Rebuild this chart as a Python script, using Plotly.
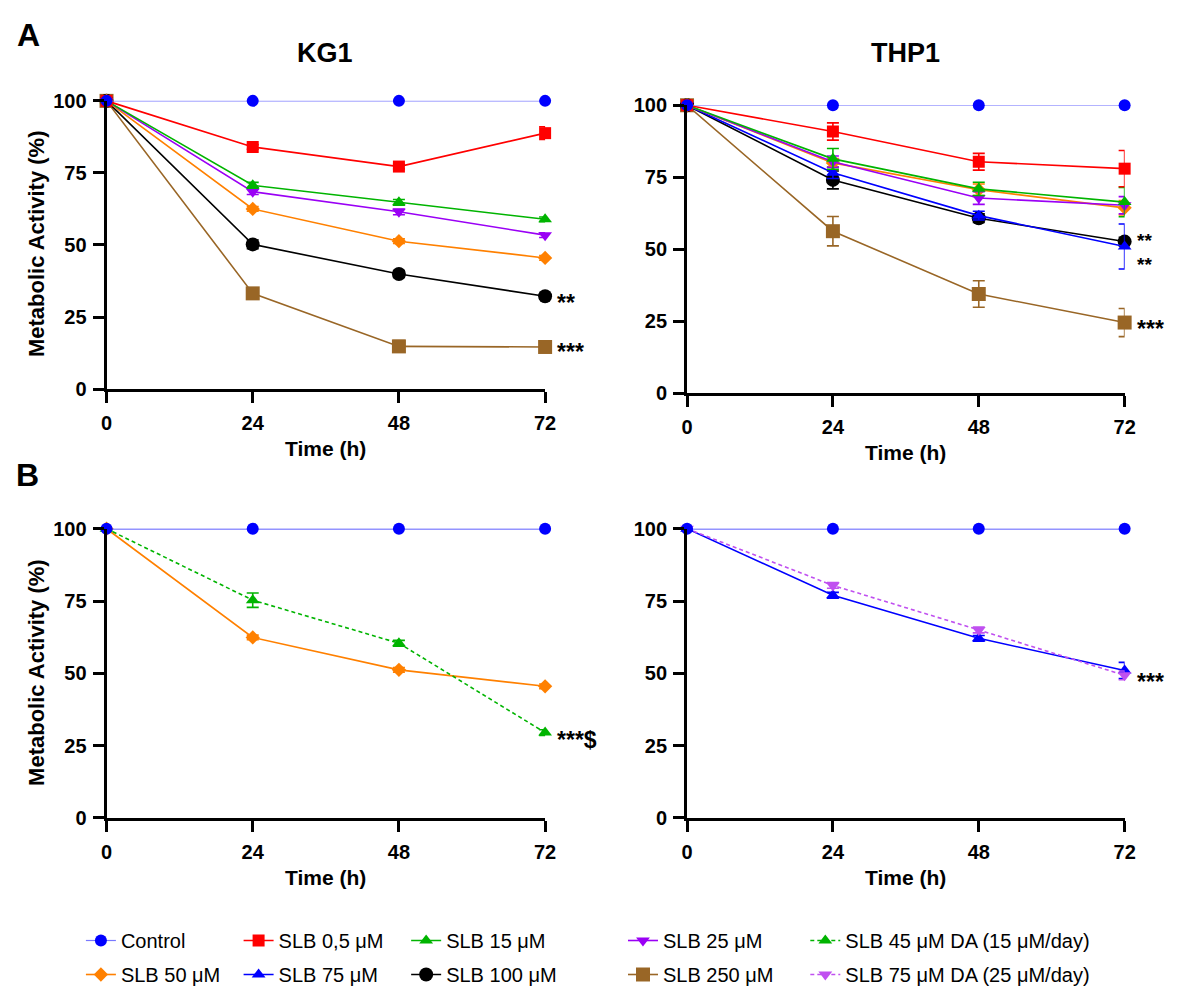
import plotly.graph_objects as go

W, H = 1179, 994
FONT = "Arial, Liberation Sans, sans-serif"

time_h = [0, 24, 48, 72]
y_ticks = [0, 25, 50, 75, 100]

# KG1 (panel A)
kg1_control = [100, 100, 100, 100]
kg1_slb05 = [100, 84.0, 77.2, 88.8]
kg1_slb05_err = [0, 0.8, 0.8, 2.2]
kg1_slb15 = [100, 70.7, 64.8, 58.9]
kg1_slb15_err = [0, 1.0, 1.0, 0.8]
kg1_slb25 = [100, 68.5, 61.5, 53.4]
kg1_slb25_err = [0, 1.0, 1.0, 0.8]
kg1_slb50 = [100, 62.5, 51.3, 45.5]
kg1_slb50_err = [0, 0.8, 0.8, 0.8]
kg1_slb100 = [100, 50.2, 39.9, 32.2]
kg1_slb100_err = [0, 1.5, 1.2, 1.0]
kg1_slb250 = [100, 33.2, 14.8, 14.6]
kg1_slb250_err = [0, 1.0, 2.0, 0.8]

# THP1 (panel A)
thp1_control = [100, 100, 100, 100]
thp1_slb05 = [100, 90.9, 80.4, 78.0]
thp1_slb05_err = [0, 3.0, 2.9, 6.3]
thp1_slb15 = [100, 81.4, 71.0, 66.4]
thp1_slb15_err = [0, 3.6, 2.3, 5.1]
thp1_slb25 = [100, 80.4, 67.8, 65.3]
thp1_slb25_err = [0, 2.0, 2.2, 3.0]
thp1_slb50 = [100, 80.0, 70.7, 64.4]
thp1_slb50_err = [0, 1.5, 2.0, 2.5]
thp1_slb75 = [100, 76.6, 61.7, 51.0]
thp1_slb75_err = [0, 2.0, 1.5, 7.8]
thp1_slb100 = [100, 74.1, 60.8, 52.7]
thp1_slb100_err = [0, 3.1, 1.5, 1.5]
thp1_slb250 = [100, 56.3, 34.5, 24.6]
thp1_slb250_err = [0, 5.1, 4.6, 4.9]

# Panel B
kg1b_control = [100, 100, 100, 100]
kg1b_slb50 = [100, 62.4, 51.2, 45.5]
kg1b_slb50_err = [0, 0.8, 0.8, 0.8]
kg1b_slb45da = [100, 75.3, 60.4, 29.5]
kg1b_slb45da_err = [0, 2.5, 1.0, 1.0]
thp1b_control = [100, 100, 100, 100]
thp1b_slb75 = [100, 77.0, 62.1, 51.0]
thp1b_slb75_err = [0, 1.0, 1.0, 2.8]
thp1b_slb75da = [100, 80.4, 65.0, 49.3]
thp1b_slb75da_err = [0, 1.0, 1.0, 1.5]

# significance labels: (text, x axis, y axis, y value for label, font size)
sig_labels = [
    ("**", "x", "y", 32.2, 23),
    ("***", "x", "y", 15.3, 23),
    ("**", "x2", "y2", 55.3, 19),
    ("**", "x2", "y2", 46.8, 19),
    ("***", "x2", "y2", 24.7, 23),
    ("***$", "x3", "y3", 29.2, 23),
    ("***", "x4", "y4", 49.4, 23),
]

C_BLUE = "#0000ff"
C_RED = "#ff0000"
C_GREEN = "#00b400"
C_PURPLE = "#9a00f5"
C_ORANGE = "#ff8000"
C_BLACK = "#000000"
C_BROWN = "#996626"
C_PURPLE_L = "#c050f0"

series_style = {
    "Control": (C_BLUE, "circle", 12, "solid", 1, "legend"),
    "SLB 50 μM": (C_ORANGE, "diamond", 11, "solid", 2, "legend"),
    "SLB 0,5 μM": (C_RED, "square", 12, "solid", 3, "legend2"),
    "SLB 75 μM": (C_BLUE, "triangle-up", 12, "solid", 4, "legend2"),
    "SLB 15 μM": (C_GREEN, "triangle-up", 12, "solid", 5, "legend3"),
    "SLB 100 μM": (C_BLACK, "circle", 14, "solid", 6, "legend3"),
    "SLB 25 μM": (C_PURPLE, "triangle-down", 12, "solid", 7, "legend4"),
    "SLB 250 μM": (C_BROWN, "square", 14, "solid", 8, "legend4"),
    "SLB 45 μM DA (15 μM/day)": (C_GREEN, "triangle-up", 12, "dash", 9, "legend5"),
    "SLB 75 μM DA (25 μM/day)": (C_PURPLE_L, "triangle-down", 12, "dash", 10, "legend5"),
}

fig = go.Figure()
shown = set()


def add(name, y, err, xa, ya, line_color=None, lw=1.6):
    color, sym, size, dash, rank, leg = series_style[name]
    show = name not in shown
    shown.add(name)
    fig.add_trace(go.Scatter(
        x=time_h, y=y, name=name, mode="lines+markers",
        xaxis=xa, yaxis=ya, legend=leg, legendrank=rank,
        legendgroup=name, showlegend=show, cliponaxis=False,
        line=dict(color=line_color or color, width=lw, dash=dash if dash == "solid" else "4px,3px"),
        marker=dict(color=color, symbol=sym, size=size, line=dict(width=0)),
        error_y=dict(type="data", array=err, visible=err is not None,
                     color=color, thickness=1.6, width=6),
    ))


# Top-left KG1
add("SLB 250 μM", kg1_slb250, kg1_slb250_err, "x", "y")
add("SLB 100 μM", kg1_slb100, kg1_slb100_err, "x", "y")
add("SLB 50 μM", kg1_slb50, kg1_slb50_err, "x", "y")
add("SLB 25 μM", kg1_slb25, kg1_slb25_err, "x", "y")
add("SLB 15 μM", kg1_slb15, kg1_slb15_err, "x", "y")
add("SLB 0,5 μM", kg1_slb05, kg1_slb05_err, "x", "y")
add("Control", kg1_control, None, "x", "y", line_color="#7878ff", lw=1.2)

# Top-right THP1
add("SLB 250 μM", thp1_slb250, thp1_slb250_err, "x2", "y2")
add("SLB 100 μM", thp1_slb100, thp1_slb100_err, "x2", "y2")
add("SLB 75 μM", thp1_slb75, thp1_slb75_err, "x2", "y2")
add("SLB 50 μM", thp1_slb50, thp1_slb50_err, "x2", "y2")
add("SLB 25 μM", thp1_slb25, thp1_slb25_err, "x2", "y2")
add("SLB 15 μM", thp1_slb15, thp1_slb15_err, "x2", "y2")
add("SLB 0,5 μM", thp1_slb05, thp1_slb05_err, "x2", "y2")
add("Control", thp1_control, None, "x2", "y2", line_color="#7878ff", lw=1.2)

# Bottom-left
add("SLB 50 μM", kg1b_slb50, kg1b_slb50_err, "x3", "y3")
add("SLB 45 μM DA (15 μM/day)", kg1b_slb45da, kg1b_slb45da_err, "x3", "y3")
add("Control", kg1b_control, None, "x3", "y3", line_color="#2a2aff", lw=1.5)

# Bottom-right
add("SLB 75 μM", thp1b_slb75, thp1b_slb75_err, "x4", "y4")
add("SLB 75 μM DA (25 μM/day)", thp1b_slb75da, thp1b_slb75da_err, "x4", "y4")
add("Control", thp1b_control, None, "x4", "y4", line_color="#2a2aff", lw=1.5)


def fx(px):
    return px / W


def fy(py):
    return 1 - py / H


axis_common = dict(
    showline=True, linecolor="black", linewidth=3,
    ticks="outside", ticklen=11, tickwidth=3, tickcolor="black",
    showgrid=False, zeroline=False,
    tickfont=dict(family=FONT, size=20, color="black", weight="bold"),
)

panels = [
    ("", (102, 547), (92, 387)),
    ("2", (691, 1135), (96.5, 391.5)),
    ("3", (102, 547), (530, 826)),
    ("4", (691, 1135), (530, 826)),
]
layout = {}
for suf, (xa, xb), (yt, yb) in panels:
    layout["xaxis" + suf] = dict(axis_common, domain=[fx(xa), fx(xb)], range=[0, 72],
                                 tickvals=time_h, anchor="y" + suf, ticklabelstandoff=3)
    layout["yaxis" + suf] = dict(axis_common, domain=[fy(yb), fy(yt)], range=[0, 100],
                                 tickvals=y_ticks, anchor="x" + suf, ticklabelstandoff=2)

annots = []


def txt(text, x, y, size, rot=0, weight="bold"):
    annots.append(dict(text=text, x=fx(x), y=fy(y), xref="paper", yref="paper",
                       showarrow=False, xanchor="center", yanchor="middle", textangle=rot,
                       font=dict(family=FONT, size=size, color="black", weight=weight)))


txt("A", 23, 25, 32)
txt("B", 22, 475, 32)
txt("KG1", 324, 43, 27)
txt("THP1", 913, 43, 27)
txt("Time (h)", 324, 448, 21)
txt("Time (h)", 913, 452, 21)
txt("Time (h)", 324, 887, 21)
txt("Time (h)", 913, 887, 21)
txt("Metabolic Activity (%)", 31, 238, 22, rot=-90)
txt("Metabolic Activity (%)", 31, 677, 22, rot=-90)

for text, xa, ya, yv, fs in sig_labels:
    annots.append(dict(text=text, x=time_h[-1], y=yv, xref=xa, yref=ya, showarrow=False,
                       xanchor="left", yanchor="middle", xshift=10, yshift=-round(0.3 * fs),
                       font=dict(family=FONT, size=fs, color="black", weight="bold")))

leg_common = dict(orientation="v", yanchor="top", y=fy(932), xanchor="left",
                  font=dict(family=FONT, size=20, color="black"), bgcolor="rgba(0,0,0,0)",
                  tracegroupgap=5, itemwidth=30)
leg_x = [76, 236, 406, 626, 811]
for i, lx in enumerate(leg_x):
    key = "legend" if i == 0 else f"legend{i + 1}"
    layout[key] = dict(leg_common, x=fx(lx))

fig.update_layout(
    width=W, height=H, margin=dict(l=0, r=0, t=0, b=0),
    plot_bgcolor="white", paper_bgcolor="white",
    font=dict(family=FONT, color="black"),
    annotations=annots, showlegend=True, hovermode=False,
    **layout,
)

fig.write_html("out.html", config={"displayModeBar": False},
               post_script="document.body.style.margin='0';document.body.style.overflow='hidden';")
